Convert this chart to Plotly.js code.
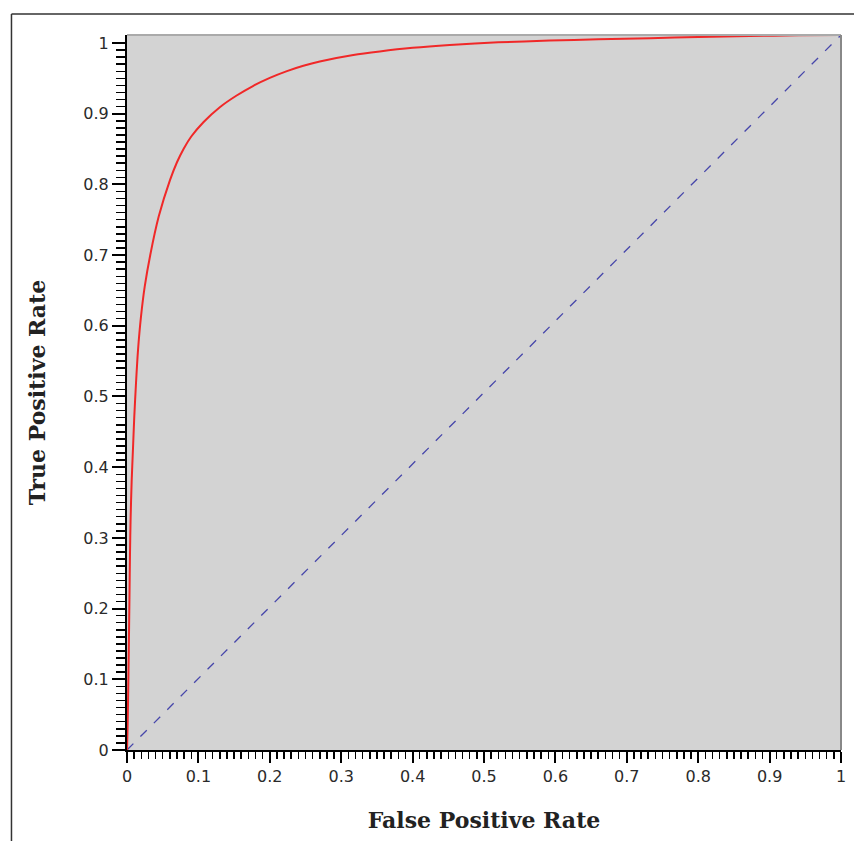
<!DOCTYPE html>
<html>
<head>
<meta charset="utf-8">
<script src="https://cdn.plot.ly/plotly-3.0.1.min.js"></script>
<style>html,body{margin:0;padding:0;background:#fff;}#chart{width:854px;height:841px;}</style>
</head>
<body>
<div id="chart"></div>
<script>
// ROC curve readings (False Positive Rate, True Positive Rate)
var fpr = [0, 0.0004, 0.0008, 0.0015, 0.0025, 0.0034, 0.0042, 0.0051, 0.0065, 0.0084, 0.0102, 0.0126, 0.0154, 0.0196, 0.0248, 0.0327, 0.0444, 0.0602, 0.070, 0.0794, 0.090, 0.107, 0.130, 0.153, 0.177, 0.200, 0.224, 0.247, 0.270, 0.317, 0.354, 0.40, 0.452, 0.52, 0.592, 0.66, 0.733, 0.80, 0.872, 0.94, 1];
var tpr = [0, 0.015, 0.03, 0.07, 0.14, 0.21, 0.275, 0.325, 0.375, 0.422, 0.466, 0.513, 0.559, 0.606, 0.648, 0.693, 0.746, 0.797, 0.822, 0.841, 0.858, 0.878, 0.899, 0.915, 0.929, 0.940, 0.9495, 0.957, 0.963, 0.972, 0.977, 0.982, 0.986, 0.9897, 0.9922, 0.994, 0.9955, 0.9972, 0.9986, 0.9995, 1];
// chance diagonal
var diagX = [0, 1];
var diagY = [0, 1];
var tickVals = [0, 0.1, 0.2, 0.3, 0.4, 0.5, 0.6, 0.7, 0.8, 0.9, 1];
var tickText = ["0", "0.1", "0.2", "0.3", "0.4", "0.5", "0.6", "0.7", "0.8", "0.9", "1"];
var xTitle = "False Positive Rate";
var yTitle = "True Positive Rate";

var minorVals = [];
for (var i = 0; i <= 100; i++) { if (i % 10 !== 0) minorVals.push(i / 100); }

var traces = [
  {x: [], y: [], mode: 'lines', hoverinfo: 'none', showlegend: false},
  {x: diagX, y: diagY, yaxis: 'y2', mode: 'lines', line: {color: 'rgb(70,70,170)', width: 1.3, dash: '9px,10px'}, hoverinfo: 'none'},
  {x: fpr, y: tpr, yaxis: 'y2', mode: 'lines', line: {color: 'rgb(240,40,40)', width: 2, shape: 'spline', smoothing: 0.8}, hoverinfo: 'none'}
];

var tickFont = {family: 'DejaVu Sans', size: 16, color: '#2a2a2a'};
var titleFont = {family: 'DejaVu Serif', size: 22, color: '#222', weight: 'bold'};

var layout = {
  width: 854, height: 841,
  margin: {l: 127, r: 13, t: 35, b: 91},
  paper_bgcolor: '#fff', plot_bgcolor: '#d3d3d3',
  showlegend: false,
  xaxis: {
    range: [0, 1], autorange: false,
    showgrid: false, zeroline: false,
    showline: true, linecolor: '#000', linewidth: 2,
    ticks: 'outside', ticklen: 11, tickwidth: 2, tickcolor: '#000',
    tickmode: 'array', tickvals: tickVals, ticktext: tickText,
    tickfont: tickFont,
    minor: {tickmode: 'array', tickvals: minorVals, ticks: 'outside', ticklen: 7, tickwidth: 1.5, tickcolor: '#000', showgrid: false},
    title: {text: xTitle, font: titleFont, standoff: 27},
    fixedrange: true
  },
  yaxis: {
    range: [0, 1.0113], autorange: false,
    showgrid: false, zeroline: false,
    showline: true, linecolor: '#000', linewidth: 2,
    ticks: 'outside', ticklen: 13, tickwidth: 2, tickcolor: '#000',
    tickmode: 'array', tickvals: tickVals, ticktext: tickText,
    tickfont: tickFont,
    minor: {tickmode: 'array', tickvals: minorVals, ticks: 'outside', ticklen: 9, tickwidth: 1.5, tickcolor: '#000', showgrid: false},
    title: {text: yTitle, font: titleFont, standoff: 32},
    fixedrange: true
  },
  yaxis2: {
    overlaying: 'y', range: [0, 1], autorange: false,
    showgrid: false, zeroline: false, showline: false,
    ticks: '', showticklabels: false, fixedrange: true
  },
  shapes: [
    {type: 'line', xref: 'paper', yref: 'paper', x0: 0, x1: 1, y0: 1, y1: 1, line: {color: '#aaa', width: 2}},
    {type: 'line', xref: 'paper', yref: 'paper', x0: 1, x1: 1, y0: 0, y1: 1, line: {color: '#888', width: 2}},
    {type: 'line', xref: 'paper', yref: 'paper', x0: -0.1618, x1: 1.03, y0: 1.0294, y1: 1.0294, line: {color: '#333', width: 1.5}},
    {type: 'line', xref: 'paper', yref: 'paper', x0: -0.1618, x1: -0.1618, y0: 1.0294, y1: -0.14, line: {color: '#333', width: 1.5}}
  ]
};

Plotly.newPlot('chart', traces, layout, {staticPlot: true, displayModeBar: false});
</script>
</body>
</html>
